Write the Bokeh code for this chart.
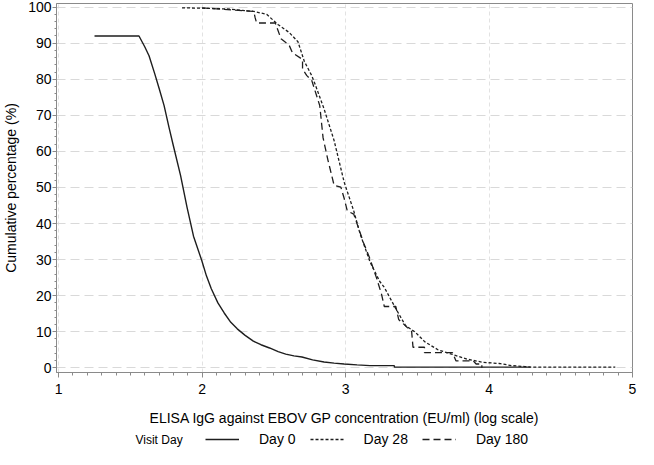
from bokeh.plotting import figure
from bokeh.layouts import column
from bokeh.models import Range1d, SingleIntervalTicker, Legend, LegendItem, Label
from bokeh.embed import file_html
from bokeh.resources import INLINE

# ---- data ----
day0_x = [1.25, 1.56, 1.60, 1.63, 1.67, 1.70, 1.735, 1.77, 1.80, 1.85, 1.895, 1.94, 1.997,
          2.03, 2.064, 2.11, 2.154, 2.20, 2.245, 2.30, 2.357, 2.41, 2.47, 2.53, 2.583, 2.64,
          2.696, 2.77, 2.85, 2.92, 2.99, 3.08, 3.17, 3.34, 3.34, 4.29]
day0_y = [92, 92, 89, 86.5, 81.5, 77.5, 72.7, 66.5, 61.5, 53.3, 44.5, 36.5, 29.8,
          25.5, 21.9, 18, 15.2, 12.6, 10.8, 9.0, 7.4, 6.4, 5.5, 4.5, 3.8, 3.3,
          3.0, 2.2, 1.6, 1.3, 1.06, 0.8, 0.6, 0.6, 0.2, 0.2]

day28_x = [1.86, 2.0, 2.17, 2.36, 2.45, 2.528, 2.606, 2.668, 2.712, 2.764, 2.785, 2.85, 2.92,
           2.99, 3.057, 3.10, 3.17, 3.237, 3.27, 3.35, 3.418, 3.485, 3.553, 3.644, 3.745,
           3.847, 3.96, 4.07, 4.16, 4.25, 4.29, 4.88]
day28_y = [99.8, 99.7, 99.5, 98.8, 98, 95.2, 93, 90.4, 85, 81, 78.9, 71.8, 63,
           51.5, 43.5, 37.3, 29.4, 24, 22.3, 16.4, 11.7, 9.9, 7.2, 5.0, 3.7,
           2.4, 1.5, 1.2, 0.6, 0.35, 0.2, 0.2]

day180_x = [2.0, 2.36, 2.37, 2.38, 2.51, 2.55, 2.606, 2.63, 2.70, 2.70, 2.73, 2.764, 2.82,
            2.843, 2.877, 2.92, 2.967, 2.99, 3.012, 3.057, 3.125, 3.17, 3.215, 3.25, 3.27,
            3.35, 3.37, 3.43, 3.46, 3.47, 3.55, 3.55, 3.745, 3.77, 3.89, 3.91, 3.95, 3.95]
day180_y = [99.8, 98.8, 97, 95.6, 95.6, 91.2, 89.5, 87.3, 85.5, 82.8, 81, 79.7, 72.7,
            63.8, 57.6, 50.6, 50.1, 47, 43.5, 42.6, 34.7, 30.2, 25, 20.5, 17,
            17, 13.4, 11.2, 10.3, 5.7, 5.7, 4.2, 4.2, 1.9, 1.9, 1.06, 1.06, 0]

series_labels = ["Day 0", "Day 28", "Day 180"]
series_dashes = ["solid", "3 2", "7 4"]
legend_title = "Visit Day"
x_title = "ELISA IgG against EBOV GP concentration (EU/ml) (log scale)"
y_title = "Cumulative percentage (%)"

FONT = "Liberation Sans"
INK = "#1e1e1e"
AXIS = "#8a8a8a"

# ---------------- main chart ----------------
p = figure(width=638, height=428, output_backend="svg", toolbar_location=None,
           x_range=Range1d(0.985, 5.0), y_range=Range1d(-1.3, 101.0),
           min_border_left=10, min_border_right=6, min_border_top=3, min_border_bottom=2)
p.background_fill_color = "white"
p.border_fill_color = "white"
p.outline_line_color = AXIS
p.outline_line_width = 1

p.xaxis.ticker = SingleIntervalTicker(interval=1, num_minor_ticks=10)
p.yaxis.ticker = SingleIntervalTicker(interval=10, num_minor_ticks=5)

for ax in (p.xaxis[0], p.yaxis[0]):
    ax.axis_line_color = AXIS
    ax.major_tick_line_color = AXIS
    ax.minor_tick_line_color = AXIS
    ax.major_tick_in = 0
    ax.minor_tick_in = 0
    ax.major_tick_out = 5
    ax.minor_tick_out = 3
    ax.major_label_text_font = FONT
    ax.major_label_text_font_size = "14px"
    ax.major_label_text_color = "black"
    ax.axis_label_text_font = FONT
    ax.axis_label_text_font_size = "14px"
    ax.axis_label_text_font_style = "normal"
    ax.axis_label_text_color = "black"

p.xaxis.axis_label = x_title
p.yaxis.axis_label = y_title
p.xaxis.major_label_standoff = 6
p.xaxis.axis_label_standoff = 13
p.yaxis.major_tick_out = 4
p.yaxis.minor_tick_out = 2
p.yaxis.major_label_standoff = 1
p.yaxis.axis_label_standoff = 6

p.ygrid.grid_line_color = "#d9d9d9"
p.ygrid.grid_line_dash = "9 5"
p.xgrid.grid_line_color = "#e2e2e2"
p.xgrid.grid_line_dash = "4 3"

p.line(day0_x, day0_y, line_color=INK, line_width=1.4, line_dash=series_dashes[0])
p.line(day28_x, day28_y, line_color=INK, line_width=1.3, line_dash=series_dashes[1])
p.line(day180_x, day180_y, line_color=INK, line_width=1.3, line_dash=series_dashes[2])

# ---------------- legend strip ----------------
lf = figure(width=638, height=21, output_backend="svg", toolbar_location=None,
            x_axis_type=None, y_axis_type=None,
            x_range=Range1d(0, 1), y_range=Range1d(0, 1),
            min_border_left=0, min_border_right=0, min_border_top=0, min_border_bottom=0)
lf.outline_line_color = None
lf.background_fill_color = "white"
lf.border_fill_color = "white"

items = []
for lab, dash in zip(series_labels, series_dashes):
    # single off-screen point: only provides the line style for the legend sample
    rr = lf.line([-5], [-5], line_color=INK, line_width=1.3, line_dash=dash)
    items.append(LegendItem(label=lab, renderers=[rr]))

lg = Legend(items=items, orientation="horizontal", location=(149, 2))
lg.border_line_color = None
lg.background_fill_alpha = 0
lg.padding = 0
lg.margin = 0
lg.spacing = 14
lg.label_standoff = 20
lg.glyph_width = 34
lg.glyph_height = 16
lg.label_text_font = FONT
lg.label_text_font_size = "14px"
lg.label_text_color = "black"
lf.add_layout(lg)

lf.add_layout(Label(x=79, y=10, x_units="screen", y_units="screen", text=legend_title,
                    text_font=FONT, text_font_size="12px", text_color="black",
                    text_baseline="middle", text_align="left"))

layout = column(p, lf, spacing=0)
open("out.html", "w").write(file_html(layout, INLINE))
